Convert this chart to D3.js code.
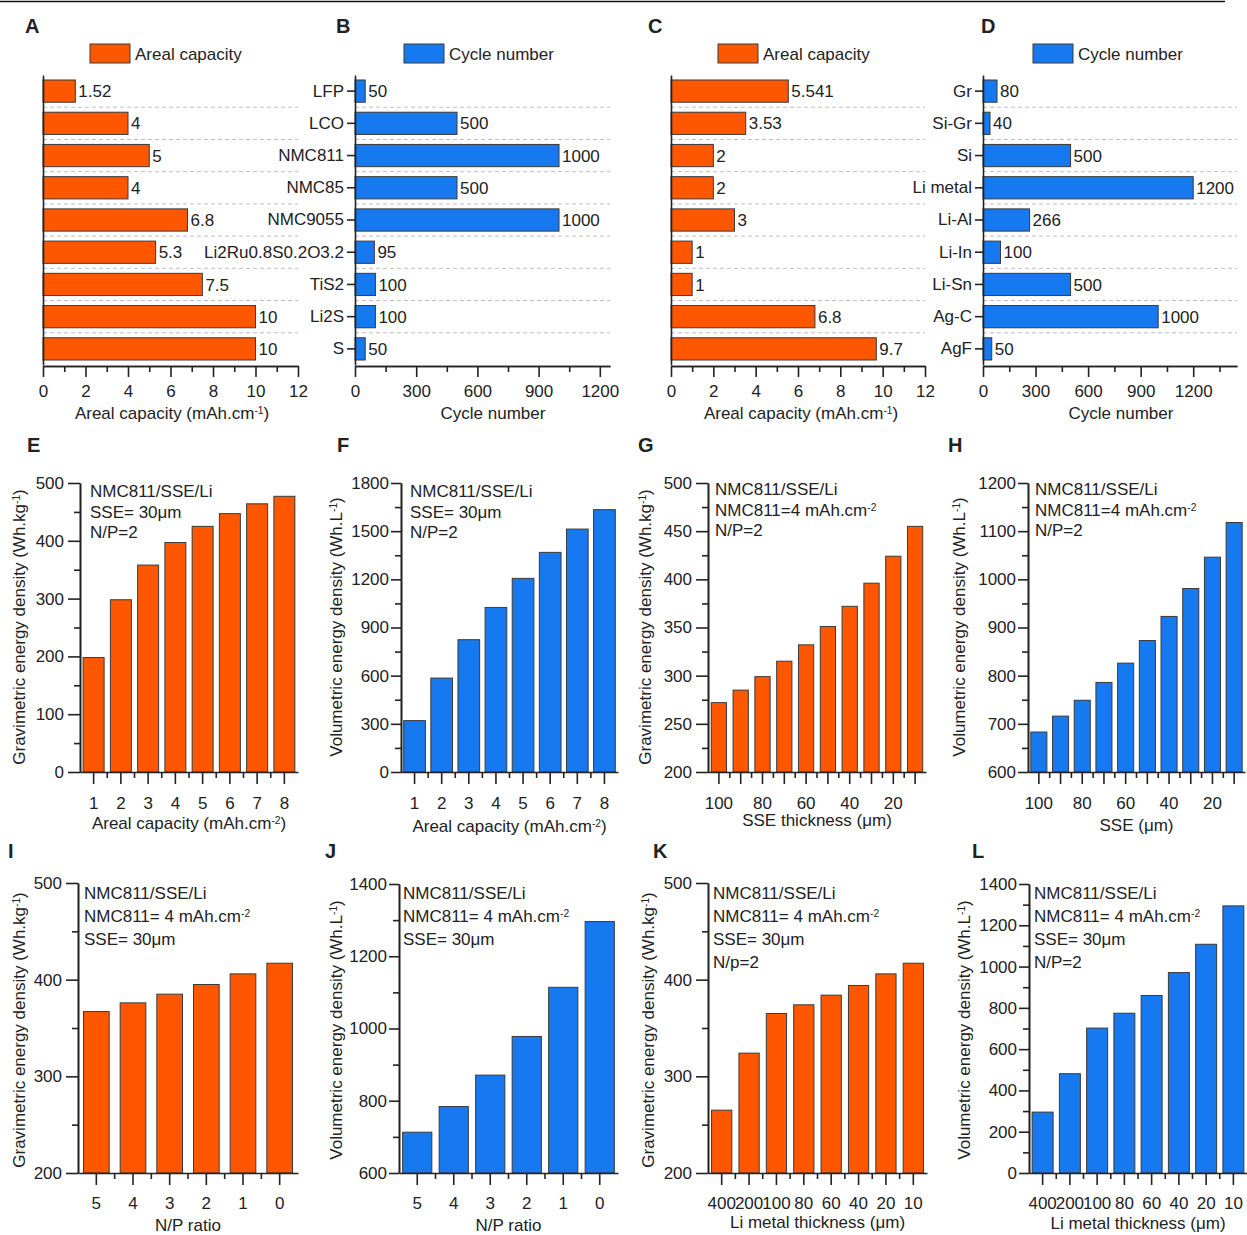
<!DOCTYPE html>
<html>
<head>
<meta charset="utf-8">
<script src="https://cdn.jsdelivr.net/npm/d3@7"></script>
<style>
  body { margin: 0; background: #fff; }
  svg { display: block; }
  text { font-family: "Liberation Sans", Arial, sans-serif; fill: #222; }
</style>
</head>
<body>
<div id="chart"></div>
<script>
// ---- data ----
const cathodes = ["LFP", "LCO", "NMC811", "NMC85", "NMC9055", "Li2Ru0.8S0.2O3.2", "TiS2", "Li2S", "S"];
const cathodeCapacity = [1.52, 4, 5, 4, 6.8, 5.3, 7.5, 10, 10];
const cathodeCycles = [50, 500, 1000, 500, 1000, 95, 100, 100, 50];

const anodes = ["Gr", "Si-Gr", "Si", "Li metal", "Li-Al", "Li-In", "Li-Sn", "Ag-C", "AgF"];
const anodeCapacity = [5.541, 3.53, 2, 2, 3, 1, 1, 6.8, 9.7];
const anodeCycles = [80, 40, 500, 1200, 266, 100, 500, 1000, 50];

const arealCapacity = [1, 2, 3, 4, 5, 6, 7, 8];
const gravByCapacity = [198, 298, 358, 397, 425, 447, 464, 477];
const volByCapacity = [320, 585, 824, 1025, 1206, 1368, 1513, 1634];

const sseThickness = [100, 90, 80, 70, 60, 50, 40, 30, 20, 10];
const gravBySSE = [272, 285, 299, 315, 332, 351, 372, 396, 424, 455];
const volBySSE = [683, 716, 749, 786, 826, 873, 923, 981, 1046, 1118];

const npRatio = [5, 4, 3, 2, 1, 0];
const gravByNP = [367, 376, 385, 395, 406, 417];
const volByNP = [713, 784, 871, 978, 1114, 1296];

const liThickness = [400, 200, 100, 80, 60, 40, 20, 10];
const gravByLi = [265, 324, 365, 374, 384, 394, 406, 417];
const volByLi = [295, 481, 702, 774, 860, 971, 1108, 1294];

// ---- setup ----
const W = 1247, H = 1235;
const orange = "#ff5700", blue = "#1679f0";
const fs = 17;
const fmt = d3.format("d");

const svg = d3.select("#chart").append("svg")
    .attr("width", W)
    .attr("height", H)
    .attr("viewBox", [0, 0, W, H]);

// text with superscript parts: [["text"], ["-1", true], ...]
function rich(sel, parts) {
    parts.forEach(p => {
        const t = sel.append("tspan").text(p[0]);
        if (p[1]) t.attr("font-size", "0.6em").attr("baseline-shift", "super");
    });
    return sel;
}

function styleAxis(g) {
    g.selectAll("path.domain").attr("stroke", "#222").attr("stroke-width", 1.6);
    g.selectAll(".tick line").attr("stroke", "#222").attr("stroke-width", 1.6);
    g.selectAll(".tick text").attr("font-size", fs).attr("fill", "#222")
        .attr("font-family", "Liberation Sans, Arial, sans-serif");
}

function letter(txt, x, y) {
    svg.append("text").attr("x", x).attr("y", y)
        .attr("font-size", 20).attr("font-weight", "bold").text(txt);
}

// top border of the page
svg.append("line").attr("x1", 0).attr("x2", 1225).attr("y1", 1.5).attr("y2", 1.5)
    .attr("stroke", "#111").attr("stroke-width", 1.6);

// ---- horizontal bar panels (A-D) ----
function hbarPanel(p) {
    const g = svg.append("g");
    const x = d3.scaleLinear().domain(p.domain).range([p.x0, p.x1]);
    const y = d3.scaleBand().domain(p.cats).range([75, 365]).paddingInner(0.31).paddingOuter(0.155);
    const gap = y.step() - y.bandwidth();

    // dashed separators
    g.append("g").selectAll("line").data(p.cats.slice(1)).join("line")
        .attr("x1", x(p.domain[0])).attr("x2", x(p.domain[1]))
        .attr("y1", d => y(d) - gap / 2).attr("y2", d => y(d) - gap / 2)
        .attr("stroke", "#bdbdbd").attr("stroke-width", 1).attr("stroke-dasharray", "4,3");

    g.append("g").selectAll("rect").data(p.values).join("rect")
        .attr("x", x(0))
        .attr("y", (d, i) => y(p.cats[i]))
        .attr("width", d => x(d) - x(0))
        .attr("height", y.bandwidth())
        .attr("fill", p.color).attr("stroke", "#3a3a3a").attr("stroke-width", 1);

    g.append("g").selectAll("text").data(p.values).join("text")
        .attr("x", d => x(d) + 3)
        .attr("y", (d, i) => y(p.cats[i]) + y.bandwidth() / 2)
        .attr("dy", "0.36em")
        .attr("font-size", fs)
        .text(d => d);

    // axes
    const major = d3.range(0, p.domain[1] + 1e-9, p.major);
    const minor = d3.range(p.major / 2, p.domain[1], p.major);
    g.append("g").attr("transform", "translate(0,366)")
        .call(d3.axisBottom(x).tickValues(minor).tickSize(6).tickFormat("").tickSizeOuter(0))
        .call(styleAxis);
    g.append("g").attr("transform", "translate(0,366)")
        .call(d3.axisBottom(x).tickValues(major).tickSize(11).tickPadding(8).tickSizeOuter(0).tickFormat(fmt))
        .call(styleAxis);

    const yAxis = p.showCats
        ? d3.axisLeft(y).tickSize(8).tickPadding(3).tickSizeOuter(0)
        : d3.axisLeft(y).tickSize(0).tickFormat("").tickSizeOuter(0);
    g.append("g").attr("transform", `translate(${p.x0},0)`).call(yAxis).call(styleAxis);

    rich(g.append("text").attr("x", p.titleX).attr("y", 419)
        .attr("text-anchor", "middle").attr("font-size", fs), p.title);

    // legend
    g.append("rect").attr("x", p.legendX).attr("y", 44).attr("width", 40).attr("height", 19)
        .attr("fill", p.color).attr("stroke", "#3a3a3a").attr("stroke-width", 1);
    g.append("text").attr("x", p.legendX + 45).attr("y", 54).attr("dy", "0.36em")
        .attr("font-size", fs).text(p.legend);
}

const arealTitle = [["Areal capacity (mAh.cm"], ["-1", true], [")"]];

hbarPanel({ cats: cathodes, values: cathodeCapacity, domain: [0, 12], major: 2, x0: 43, x1: 298,
    color: orange, showCats: false, title: arealTitle, titleX: 172, legend: "Areal capacity", legendX: 90 });
hbarPanel({ cats: cathodes, values: cathodeCycles, domain: [0, 1250], major: 300, x0: 355, x1: 610,
    color: blue, showCats: true, title: [["Cycle number"]], titleX: 493, legend: "Cycle number", legendX: 404 });
hbarPanel({ cats: anodes, values: anodeCapacity, domain: [0, 12], major: 2, x0: 671, x1: 925,
    color: orange, showCats: false, title: arealTitle, titleX: 801, legend: "Areal capacity", legendX: 718 });
hbarPanel({ cats: anodes, values: anodeCycles, domain: [0, 1450], major: 300, x0: 983, x1: 1237,
    color: blue, showCats: true, title: [["Cycle number"]], titleX: 1121, legend: "Cycle number", legendX: 1033 });

letter("A", 25, 33);
letter("B", 336, 33);
letter("C", 648, 33);
letter("D", 981, 33);

// ---- vertical bar panels (E-L) ----
function vbarPanel(p) {
    const g = svg.append("g");
    const x = d3.scaleBand().domain(p.cats).range(p.xr).paddingInner(p.pad).paddingOuter(p.pad / 2);
    const y = d3.scaleLinear().domain(p.domain).range(p.yr);
    const y0 = p.yr[0];

    g.append("g").selectAll("rect").data(p.values).join("rect")
        .attr("x", (d, i) => x(p.cats[i]))
        .attr("y", d => y(d))
        .attr("width", x.bandwidth())
        .attr("height", d => y(p.domain[0]) - y(d))
        .attr("fill", p.color).attr("stroke", "#3a3a3a").attr("stroke-width", 1);

    // y axis
    const major = d3.range(p.domain[0], p.domain[1] + 1e-9, p.major);
    const minor = d3.range(p.domain[0] + p.major / 2, p.domain[1], p.major);
    g.append("g").attr("transform", `translate(${p.xr[0]},0)`)
        .call(d3.axisLeft(y).tickValues(minor).tickSize(6).tickFormat("").tickSizeOuter(0))
        .call(styleAxis);
    g.append("g").attr("transform", `translate(${p.xr[0]},0)`)
        .call(d3.axisLeft(y).tickValues(major).tickSize(p.yTick || 12).tickPadding(p.yPad || 4)
            .tickSizeOuter(0).tickFormat(fmt))
        .call(styleAxis);

    // x axis, minor ticks between bars
    const half = x.step() / 2;
    g.append("g").selectAll("line").data(p.cats.slice(1)).join("line")
        .attr("x1", d => x(d) + x.bandwidth() / 2 - half)
        .attr("x2", d => x(d) + x.bandwidth() / 2 - half)
        .attr("y1", y0).attr("y2", y0 + 6)
        .attr("stroke", "#222").attr("stroke-width", 1.6);
    g.append("g").attr("transform", `translate(0,${y0})`)
        .call(d3.axisBottom(x).tickSize(12).tickPadding(p.xPad).tickSizeOuter(0)
            .tickFormat((d, i) => (p.every && i % p.every) ? "" : d))
        .call(styleAxis);

    rich(g.append("text").attr("x", (p.xr[0] + p.xr[1]) / 2).attr("y", p.titleY)
        .attr("text-anchor", "middle").attr("font-size", fs), p.xTitle);
    rich(g.append("text")
        .attr("transform", `translate(${p.yTitleX},${p.yTitleY}) rotate(-90)`)
        .attr("text-anchor", "middle").attr("dy", "0.36em").attr("font-size", fs), p.yTitle);

    p.notes.forEach((n, i) => {
        rich(g.append("text").attr("x", p.noteX).attr("y", p.noteY + i * p.noteStep)
            .attr("font-size", fs), n);
    });
}

const gravTitle = [["Gravimetric energy density (Wh.kg"], ["-1", true], [")"]];
const volTitle = [["Volumetric energy density (Wh.L"], ["-1", true], [")"]];
const capTitle = [["Areal capacity (mAh.cm"], ["-2", true], [")"]];
const noteCell = [["NMC811/SSE/Li"]];
const noteSSE = [["SSE= 30\u03bcm"]];
const noteNP = [["N/P=2"]];
const noteNMC = [["NMC811=4 mAh.cm"], ["-2", true]];
const noteNMCs = [["NMC811= 4 mAh.cm"], ["-2", true]];

const row2 = { yr: [772, 483], titleY: 829, xPad: 13, noteY: 497, noteStep: 20.5, yTitleY: 627 };
const row3 = { yr: [1173, 883], titleY: 1231, xPad: 12, noteY: 899, noteStep: 23, yTitleY: 1030 };

vbarPanel({ ...row2, cats: arealCapacity, values: gravByCapacity, domain: [0, 500], major: 100,
    xr: [80, 298], pad: 0.23, color: orange, xTitle: capTitle, yTitle: gravTitle, yTitleX: 19,
    notes: [noteCell, noteSSE, noteNP], noteX: 90 });
vbarPanel({ ...row2, cats: arealCapacity, values: volByCapacity, domain: [0, 1800], major: 300,
    xr: [401, 618], pad: 0.2, color: blue, xTitle: capTitle, yTitle: volTitle, yTitleX: 336,
    notes: [noteCell, noteSSE, noteNP], noteX: 410, titleY: 832, yTick: 10, yPad: 2 });
vbarPanel({ ...row2, cats: sseThickness, values: gravBySSE, domain: [200, 500], major: 50,
    xr: [708, 926], pad: 0.3, color: orange, every: 2, xTitle: [["SSE thickness (\u03bcm)"]],
    yTitle: gravTitle, yTitleX: 645, notes: [noteCell, noteNMC, noteNP], noteX: 715, noteY: 495, titleY: 826 });
vbarPanel({ ...row2, cats: sseThickness, values: volBySSE, domain: [600, 1200], major: 100,
    xr: [1028, 1245], pad: 0.26, color: blue, every: 2, xTitle: [["SSE (\u03bcm)"]],
    yTitle: volTitle, yTitleX: 959, notes: [noteCell, noteNMC, noteNP], noteX: 1035, noteY: 495, titleY: 831,
    yTick: 10, yPad: 2 });

vbarPanel({ ...row3, cats: npRatio, values: gravByNP, domain: [200, 500], major: 100,
    xr: [78, 298], pad: 0.3, color: orange, xTitle: [["N/P ratio"]], yTitle: gravTitle, yTitleX: 19,
    notes: [noteCell, noteNMCs, noteSSE], noteX: 84 });
vbarPanel({ ...row3, cats: npRatio, values: volByNP, domain: [600, 1400], major: 200, yr: [1173, 884],
    xr: [399, 618], pad: 0.2, color: blue, xTitle: [["N/P ratio"]], yTitle: volTitle, yTitleX: 336,
    notes: [noteCell, noteNMCs, noteSSE], noteX: 403, yTick: 10, yPad: 2 });
vbarPanel({ ...row3, cats: liThickness, values: gravByLi, domain: [200, 500], major: 100,
    xr: [708, 927], pad: 0.26, color: orange, xTitle: [["Li metal thickness (\u03bcm)"]],
    yTitle: gravTitle, yTitleX: 648, notes: [noteCell, noteNMCs, noteSSE, [["N/p=2"]]], noteX: 713, titleY: 1228 });
vbarPanel({ ...row3, cats: liThickness, values: volByLi, domain: [0, 1400], major: 200, yr: [1173, 884],
    xr: [1029, 1247], pad: 0.23, color: blue, xTitle: [["Li metal thickness (\u03bcm)"]],
    yTitle: volTitle, yTitleX: 964, notes: [noteCell, noteNMCs, noteSSE, noteNP], noteX: 1034, titleY: 1229,
    yTick: 10, yPad: 2 });

letter("E", 27, 452);
letter("F", 337, 452);
letter("G", 638, 452);
letter("H", 948, 452);
letter("I", 8, 858);
letter("J", 325, 858);
letter("K", 653, 858);
letter("L", 972, 858);
</script>
</body>
</html>
